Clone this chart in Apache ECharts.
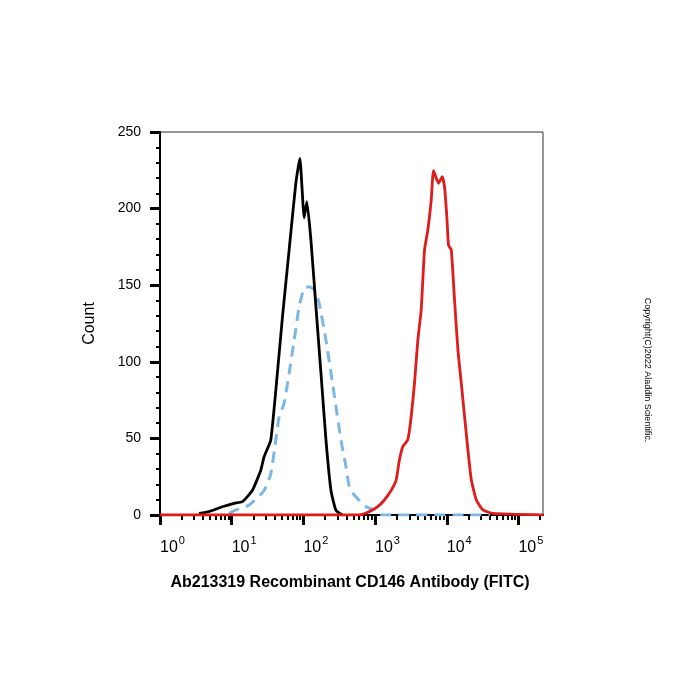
<!DOCTYPE html>
<html>
<head>
<meta charset="utf-8">
<script src="https://cdn.jsdelivr.net/npm/echarts@6/dist/echarts.min.js"></script>
<style>
  html, body { margin: 0; padding: 0; background: #fff; }
  #chart { width: 700px; height: 700px; }
</style>
</head>
<body>
<div id="chart"></div>
<script>
// 直方图数据（荧光强度, 计数）
const blackX = [3.5, 4.8, 7.4, 10.8, 14.1, 19.4, 25.4, 28.3, 35.1, 43.4, 51, 63.3, 78.5, 89.3, 102.6, 111.9, 127.4, 149.6, 175.8, 206.5, 242.5, 285, 349];
const blackY = [1, 2.2, 5.4, 7.6, 8.7, 16, 29, 38, 49, 92.7, 129, 173, 216.7, 232.8, 194, 204.5, 179.5, 136, 92.7, 49, 16, 3, 0];

const blueX = [9.2, 11.4, 17.5, 28.3, 35.1, 41.2, 45.9, 53.9, 63.3, 74.3, 87.4, 102.6, 120.6, 141.6, 166.3, 206.5, 242.5, 285, 334.5, 393, 437, 513, 748, 1032, 1265, 40000];
const blueY = [1, 3.3, 6.5, 16, 27, 49, 64, 73, 92.7, 114, 136, 148, 149, 147, 138, 114, 92.7, 70.7, 49, 31.5, 18.5, 13, 5.4, 3, 0, 0];

const redX = [1, 603, 832, 1087, 1349, 1674, 1966, 2187, 2432, 2858, 3187, 3548, 3945, 4399, 4894, 5445, 6072, 6536, 7677, 8652, 9312, 10025, 10590, 11560, 12850, 14300, 15950, 17740, 19730, 22020, 25860, 32000, 44150, 220000];
const redY = [0, 0, 2.2, 5.4, 9.8, 16, 22.8, 36, 44.6, 49, 64, 86, 114, 133.8, 173, 186, 205.6, 224.7, 216.5, 220.8, 214, 194.7, 176, 173, 140, 107.7, 86, 64, 42.4, 22.8, 9.8, 3.3, 1, 0];

const majorTicks = [1, 10, 100, 1000, 10000, 100000];
const minorTicks = [];
majorTicks.forEach(d => { for (let k = 2; k <= 9; k++) minorTicks.push(d * k); });

const font = 'Liberation Sans, Arial, sans-serif';
const pair = (xs, ys) => xs.map((x, i) => [x, ys[i]]);

const chart = echarts.init(document.getElementById('chart'));
const option = {
  backgroundColor: '#fff',
  animation: false,
  title: {
    text: 'Ab213319 Recombinant CD146 Antibody (FITC)',
    left: 'center',
    top: 570,
    textStyle: { fontFamily: font, fontSize: 16, fontWeight: 'bold', color: '#000' }
  },
  grid: {
    left: 160, top: 132, right: 157, bottom: 185,
    show: true, borderColor: '#333', borderWidth: 1
  },
  xAxis: [
    {
      type: 'log', min: 1, max: 220000,
      axisLine: { show: true, lineStyle: { color: '#000', width: 2 } },
      axisTick: { show: true, length: 10, customValues: majorTicks, lineStyle: { color: '#000', width: 3 } },
      axisLabel: {
        customValues: majorTicks,
        align: 'left',
        margin: 20,
        formatter: v => '{b|10}{s|' + Math.round(Math.log10(v)) + '}',
        rich: {
          b: { fontFamily: font, fontSize: 16, color: '#000' },
          s: { fontFamily: font, fontSize: 11, color: '#000', padding: [0, 0, 14, 1] }
        }
      },
      splitLine: { show: false }
    },
    {
      type: 'log', min: 1, max: 220000, gridIndex: 0, position: 'bottom',
      axisLine: { show: false },
      axisTick: { show: true, length: 5, customValues: minorTicks, lineStyle: { color: '#000', width: 2 } },
      axisLabel: { show: false },
      splitLine: { show: false }
    }
  ],
  yAxis: {
    type: 'value', min: 0, max: 250, interval: 50,
    name: 'Count', nameLocation: 'middle', nameGap: 62,
    nameTextStyle: { fontFamily: font, fontSize: 16, color: '#000' },
    axisLine: { show: true, lineStyle: { color: '#000', width: 2 } },
    axisTick: { show: true, length: 10, lineStyle: { color: '#000', width: 3 } },
    minorTick: { show: true, splitNumber: 5, length: 4, lineStyle: { color: '#000', width: 2 } },
    axisLabel: { fontFamily: font, fontSize: 14, color: '#000', margin: 19 },
    splitLine: { show: false }
  },
  series: [
    {
      name: 'blue', type: 'line', showSymbol: false, smooth: 0.2,
      data: pair(blueX, blueY),
      lineStyle: { color: '#7db7e6', width: 3, type: [11, 7] }
    },
    {
      name: 'black', type: 'line', showSymbol: false, smooth: 0.15,
      data: pair(blackX, blackY),
      lineStyle: { color: '#000', width: 2.8 }
    },
    {
      name: 'red', type: 'line', showSymbol: false, smooth: 0.15,
      data: pair(redX, redY),
      lineStyle: { color: '#e01b1b', width: 2.8 }
    }
  ],
  graphic: [
    {
      type: 'text', x: 647, y: 370, rotation: -Math.PI / 2,
      style: {
        text: 'Copyright(C)2022 Aladdin Scientific.',
        fontFamily: font, fontSize: 9, fill: '#000',
        align: 'center', verticalAlign: 'middle'
      }
    }
  ]
};
chart.setOption(option);
</script>
</body>
</html>
